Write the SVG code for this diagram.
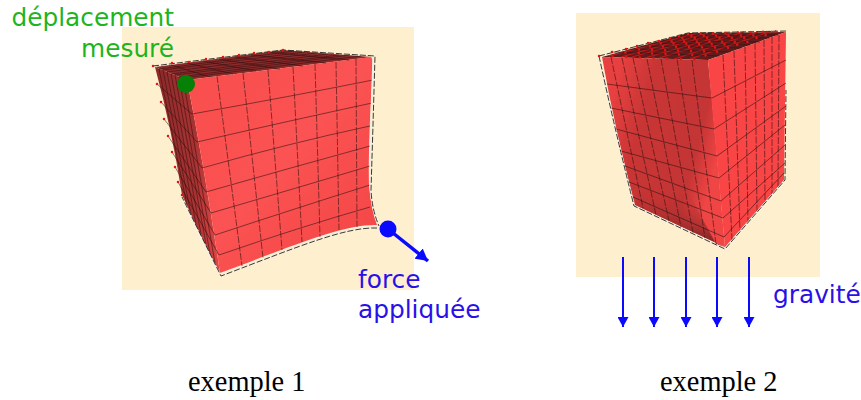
<svg xmlns="http://www.w3.org/2000/svg" width="861" height="400" viewBox="0 0 861 400">
<style>
.bg{fill:#fef0cf}
.lab{font-family:"DejaVu Sans",sans-serif;font-size:24.8px}
.cap{font-family:"Liberation Serif",serif;font-size:28.4px;fill:#000}
.g{stroke:#2a1010;stroke-width:.8;fill:none;opacity:.7}
.d{stroke:#3a1010;stroke-width:1;fill:none;stroke-dasharray:7 1.5;opacity:.6}
.t{stroke:#300c0c;stroke-width:.8;fill:none;opacity:.65}
.r{stroke:#c81818;stroke-width:1.2;fill:none}
.o{stroke:#222;stroke-width:.9;fill:none;stroke-dasharray:6 2}
.w{stroke:#f4f0e4;stroke-width:1.4;fill:none}
.n{stroke:#e01414;stroke-width:2.5;stroke-linecap:round;fill:none;stroke-dasharray:0 1}
.p{stroke:#e01414;stroke-width:2.5;stroke-linecap:round;fill:none}
.ar{stroke:#0a0aff;stroke-width:2;fill:none;marker-end:url(#h)}
</style>
<defs>
<filter id="soft" x="-5%" y="-5%" width="110%" height="110%"><feGaussianBlur stdDeviation="0.6"/></filter>
<marker id="h" markerUnits="userSpaceOnUse" markerWidth="12" markerHeight="11" refX="10" refY="5.5" orient="auto"><path d="M0 0L10 5.5L0 11Z" fill="#0a0aff"/></marker>
<marker id="h2" markerUnits="userSpaceOnUse" markerWidth="14" markerHeight="13" refX="12" refY="6.5" orient="auto"><path d="M0 0L12 6.5L0 13Z" fill="#0a0aff"/></marker>
<linearGradient id="f1" x1="0" y1="0" x2="1" y2="1"><stop offset="0" stop-color="#f94e4e"/><stop offset=".5" stop-color="#fb5252"/><stop offset="1" stop-color="#f34545"/></linearGradient>
<linearGradient id="l1" x1="0" y1="0" x2="1" y2="0"><stop offset="0" stop-color="#8a2a2a"/><stop offset=".6" stop-color="#a83232"/><stop offset="1" stop-color="#e04848"/></linearGradient>
<linearGradient id="l2" gradientUnits="userSpaceOnUse" x1="605" y1="120" x2="720" y2="150"><stop offset="0" stop-color="#e84040"/><stop offset=".3" stop-color="#c93535"/><stop offset=".8" stop-color="#c43434"/><stop offset="1" stop-color="#f04545"/></linearGradient>
<linearGradient id="l3" gradientUnits="userSpaceOnUse" x1="680" y1="190" x2="675" y2="235"><stop offset="0" stop-color="#c43434" stop-opacity="0"/><stop offset="1" stop-color="#8c2828"/></linearGradient>
</defs>

<g id="example1">
<rect class="bg" x="122" y="27" width="292" height="263"/>
<g filter="url(#soft)">
<path d="M155 67L283 50L372 57L187 80Z" fill="#8a2c2c"/>
<path d="M155 67Q172 130 182 195Q200 235 220 273Q205 170 187 80Z" fill="url(#l1)"/>
<path d="M187 80L371 57Q374 60 372 80Q368 150 369 185Q371 210 377 225C345 224 300 243 220 273Q205 170 187 80Z" fill="url(#f1)"/>
<path class="t" d="M159 69L294 51M163 70L305 52M167 72L316 53M171 74L328 54M175 75L339 55M179 77L350 55M183 78L361 56M171 65L210 77M187 63L233 74M203 61L256 71M219 59L280 69M235 57L303 66M251 55L326 63M267 52L349 60"/>
<path class="t" d="M159 69L187 205M163 70L191 215M167 72L196 224M171 74L201 234M175 75L206 244M179 77L210 254M183 78L215 263M157 84L192 114M161 102L197 142M164 119L202 168M168 136L206 192M172 152L211 213M175 167L215 235M178 182L219 255"/>
<path class="g" d="M192 114Q293 96 373 80M197 142Q293 120 372 103M202 168Q290 143 370 126M206 192Q290 168 370 146M211 213Q300 187 370 166M215 235Q300 207 370 185M219 255Q300 227 370 207"/>
<path class="d" d="M217 76L242 266M243 73L263 258M268 70L282 250M293 67L302 242M315 64L320 237M336 62L339 230M356 59L357 227"/>
<path class="w" d="M373 60Q370 150 370 185Q371 205 378 224M377 227C345 226 300 245 221 275M221 275Q205 250 182 197"/>
<path class="o" d="M153 66L283 50L375 56L373 125L371 190Q372 210 379 226M377 228C345 227 300 246 221 276L182 197"/>
<path class="p" d="M153 66h0M157 84h0M161 102h0M164 119h0M168 136h0M172 152h0M175 167h0M178 182h0M182 195h0M172 63h0M189 62h0M206 59h0M223 57h0M239 55h0M254 53h0M269 52h0M283 50h0"/>
</g>
</g>

<g id="example2">
<rect class="bg" x="576" y="13" width="244" height="264"/>
<g filter="url(#soft)">
<path d="M602 57L688 33L786 32L708 60Z" fill="#5e1e1e"/>
<path d="M602 57L708 60L712 100L725 247L635 205Q615 130 602 57Z" fill="url(#l2)"/>
<path d="M635 205L725 247L716 244L690 195L640 170Z" fill="url(#l3)"/>
<path d="M708 60L786 32L784 180L725 247L716 150Z" fill="#f94545"/>
<path class="r" d="M609 56L698 33M621 57L708 33M632 57L719 33M645 58L732 33M659 58L744 32M674 59L758 32M690 59L772 31"/>
<path class="t" d="M612 52L719 56M626 49L730 52M637 46L741 48M648 43L750 45M659 41L760 42M670 38L769 38M679 36L778 35"/>
<path class="g" d="M607 84L712 98L786 60M611 108L714 129L786 83M616 129L717 156L786 106M621 151L719 178L785 125M625 166L721 201L785 145M629 182L723 218L785 163M633 197L724 237L784 173"/>
<path class="d" d="M611 57L643 208M622 58L656 215M633 58L669 221M647 59L681 227M661 59L693 233M677 59L705 238M692 60L716 244"/>
<path class="d" stroke-width="1.4" d="M723 55L732 240M734 51L740 232M745 47L748 222M755 43L757 212M764 40L765 202M772 37L772 195M779 35L778 187"/>
<path class="w" d="M599 58Q615 130 634 206L725 249L785 180"/>
<path class="o" d="M599 56L688 33L788 31M599 56Q615 130 634 206L725 249L785 180L786 90"/>
<path class="n" pathLength="8" d="M599 56L708 60"/>
<path class="n" pathLength="8" d="M612 52L719 56"/>
<path class="n" pathLength="8" d="M626 49L730 52"/>
<path class="n" pathLength="8" d="M637 46L741 48"/>
<path class="n" pathLength="8" d="M648 43L750 45"/>
<path class="n" pathLength="8" d="M659 41L760 42"/>
<path class="n" pathLength="8" d="M670 38L769 38"/>
<path class="n" pathLength="8" d="M679 36L778 35"/>
<path class="n" pathLength="8" d="M688 34L788 31"/>
</g>
</g>

<g id="measure">
<circle cx="186" cy="84" r="9" fill="#068006"/>
<text class="lab" x="174" y="26" text-anchor="end" fill="#1eb41e">déplacement</text>
<text class="lab" x="174" y="57" text-anchor="end" fill="#1eb41e">mesuré</text>
</g>

<g id="force">
<circle cx="388" cy="229" r="8.5" fill="#0a0aff"/>
<path d="M388 229L428 261" stroke="#0a0aff" stroke-width="3.5" fill="none" marker-end="url(#h2)"/>
<text class="lab" x="358" y="288" fill="#2a10e8">force</text>
<text class="lab" x="358" y="318" fill="#2a10e8">appliquée</text>
</g>

<g id="gravity">
<path class="ar" d="M623 257V327"/>
<path class="ar" d="M654 257V327"/>
<path class="ar" d="M686 257V327"/>
<path class="ar" d="M717 257V327"/>
<path class="ar" d="M749 257V327"/>
<text class="lab" x="773" y="303" fill="#2a10e8">gravité</text>
</g>

<text class="cap" x="188" y="391">exemple 1</text>
<text class="cap" x="660" y="391">exemple 2</text>
</svg>
